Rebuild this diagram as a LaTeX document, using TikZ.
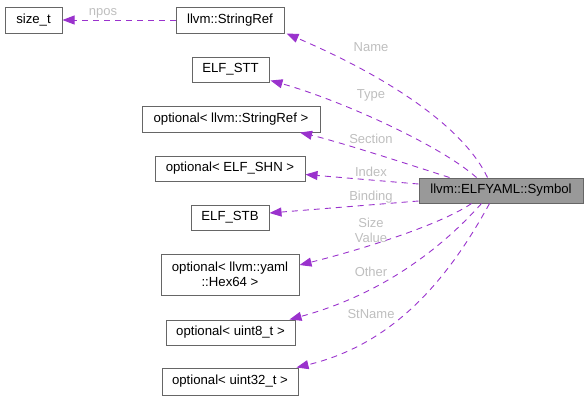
\documentclass[tikz,border=0pt]{standalone}
\usepackage{fontspec}
\setmainfont{Liberation Sans}
\usetikzlibrary{arrows.meta,calc}
\definecolor{edgec}{HTML}{9A32CD}
\definecolor{labc}{HTML}{BEBEBE}
\definecolor{boxc}{HTML}{666666}
\definecolor{symc}{HTML}{999999}
\begin{document}
\begin{tikzpicture}[x=1pt,y=-1pt,
  box/.style={draw=boxc, fill=white, line width=1pt, inner sep=0pt, align=center,
    font=\fontsize{13.2}{15}\selectfont},
  dep/.style={draw=edgec, line width=0.9pt, dash pattern=on 6pt off 5pt,
    -{Triangle[length=12pt,width=9pt,fill=edgec]}},
  lab/.style={text=labc, font=\fontsize{13}{15}\selectfont, inner sep=0pt, align=center}]
\useasboundingbox (0,0) rectangle (588,400);

\node[box, minimum width=57pt, minimum height=26pt] (sizet) at (33.5,20) {size\_t};
\node[box, minimum width=108pt, minimum height=26pt] (sref) at (230,20) {llvm::StringRef};
\node[box, minimum width=77pt, minimum height=25pt] (stt) at (230.5,69.5) {ELF\_STT};
\node[box, minimum width=178pt, minimum height=26pt] (osr) at (231,119) {optional\textless{} llvm::StringRef \textgreater};
\node[box, minimum width=150pt, minimum height=25pt] (shn) at (230,168.5) {optional\textless{} ELF\_SHN \textgreater};
\node[box, minimum width=78pt, minimum height=25pt] (stb) at (230,217.5) {ELF\_STB};
\node[box, minimum width=138pt, minimum height=41pt] (hex) at (230,274.5) {optional\textless{} llvm::yaml\\::Hex64 \textgreater};
\node[box, minimum width=129pt, minimum height=25pt] (u8) at (230.5,332.5) {optional\textless{} uint8\_t \textgreater};
\node[box, minimum width=136pt, minimum height=27pt] (u32) at (230,381.5) {optional\textless{} uint32\_t \textgreater};
\node[box, fill=symc, minimum width=164pt, minimum height=25pt] (sym) at (501,190.5) {llvm::ELFYAML::Symbol};

\draw[dep] (sref.west) -- (sizet.east);
\draw[dep] ($(sym.north west)+(69,0)$) .. controls (465,130) and (395,80) .. ($(sref.south east)+(2,0)$);
\draw[dep] ($(sym.north west)+(58,0)$) .. controls (440,145) and (340,100) .. ($(stt.south east)+(1,-2)$);
\draw[dep] ($(sym.north west)+(31,0)$) .. controls (420,168) and (340,142) .. ($(osr.south)+(69,0)$);
\draw[dep] ($(sym.west)+(0,-6.5)$) -- ($(shn.east)+(0,6)$);
\draw[dep] ($(sym.west)+(0,10.5)$) -- ($(stb.east)+(0,-4.5)$);
\draw[dep] ($(sym.south west)+(53,0)$) .. controls (440,225) and (360,250) .. ($(hex.east)+(0,-9.5)$);
\draw[dep] ($(sym.south west)+(63,0)$) .. controls (440,250) and (380,295) .. ($(u8.north east)+(-6,0)$);
\draw[dep] ($(sym.south west)+(71,0)$) .. controls (445,285) and (390,345) .. ($(u32.north east)+(-2,0)$);

\node[lab] (lnpos) at (103,13) {npos};
\node[lab] (lname) at (371,47) {Name};
\node[lab] (ltype) at (371,95) {Type};
\node[lab] (lsec) at (371,139) {Section};
\node[lab] (lidx) at (371,171.5) {Index};
\node[lab] (lbind) at (371,197) {Binding};
\node[lab] (lsize) at (371,230.5) {Size\\Value};
\node[lab] (loth) at (371,271.5) {Other};
\node[lab] (lstn) at (371,314) {StName};
\end{tikzpicture}
\end{document}
